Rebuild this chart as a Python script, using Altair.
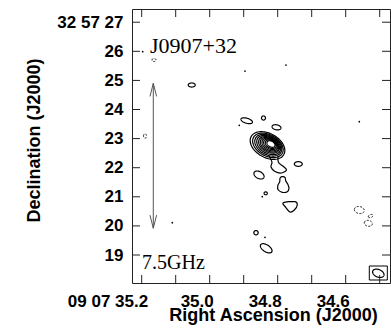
import altair as alt
import numpy as np
import pandas as pd

# ---------------- data (RA in seconds of 09h07m, Dec in arcsec of +32d57') ----------------
# nested contours of the main source (outer -> inner)
main_ra = [34.8300, 34.8288, 34.8277, 34.8265, 34.8254, 34.8243, 34.8231, 34.8220, 34.8208, 34.8197]
main_dec = [22.763, 22.769, 22.774, 22.780, 22.786, 22.791, 22.797, 22.803, 22.808, 22.814]
main_a = [0.68, 0.60, 0.53, 0.47, 0.41, 0.36, 0.31, 0.26, 0.21, 0.16]
main_b = [0.42, 0.37, 0.33, 0.29, 0.25, 0.22, 0.19, 0.16, 0.13, 0.10]
main_pa = [25, 25, 25, 25, 25, 25, 25, 25, 25, 25]

# small compact contours (ellipses); neg = 1 -> dashed (negative) contour
ell_ra = [35.0529, 35.1638, 35.1903, 34.8912, 34.8418, 34.8035, 34.7394, 34.8550, 34.8353, 34.8638, 34.8338, 34.5600, 34.5265, 34.5335]
ell_dec = [24.842, 25.701, 23.089, 23.615, 23.708, 23.388, 22.127, 21.749, 21.120, 19.766, 19.230, 20.546, 20.340, 20.089]
ell_a = [0.13, 0.075, 0.055, 0.22, 0.075, 0.167, 0.148, 0.20, 0.06, 0.08, 0.24, 0.185, 0.09, 0.15]
ell_b = [0.07, 0.05, 0.075, 0.086, 0.07, 0.086, 0.08, 0.12, 0.05, 0.075, 0.12, 0.12, 0.05, 0.10]
ell_pa = [0, 0, 0, 15, 0, 10, 0, 25, 0, 0, 30, 10, -20, 10]
ell_neg = [0, 1, 1, 0, 0, 0, 0, 0, 0, 0, 0, 1, 1, 1]

# point-like contours
dot_ra = [35.1971, 34.8962, 34.7756, 34.5600, 35.1100, 34.9130, 34.8374, 34.8453]
dot_dec = [25.986, 25.323, 25.529, 23.581, 20.110, 23.457, 19.608, 21.003]

# extension (tail) south of the main source
tail_ra = [34.8256, 34.8168, 34.8197, 34.8079, 34.7888, 34.7741, 34.7829, 34.7976, 34.7991]
tail_dec = [22.402, 22.196, 22.024, 21.869, 21.818, 21.921, 22.041, 22.179, 22.402]

# irregular closed contours
bean_ra = [34.7882, 34.7785, 34.7765, 34.7706, 34.7668, 34.7718, 34.7865, 34.7982, 34.8000, 34.7941, 34.7932]
bean_dec = [21.691, 21.670, 21.553, 21.440, 21.292, 21.175, 21.155, 21.234, 21.371, 21.519, 21.636]
tri_ra = [34.7835, 34.7491, 34.7424, 34.7512, 34.7638, 34.7765]
tri_dec = [20.797, 20.832, 20.718, 20.546, 20.478, 20.639]

# scale arrow
arrow_ra = [35.1659, 35.1659, None, 35.1756, 35.1659, 35.1562, None, 35.1756, 35.1659, 35.1562]
arrow_dec = [19.92, 24.90, None, 24.45, 24.90, 24.45, None, 20.37, 19.92, 20.37]

# beam
beam_box_ra = [34.5306, 34.4776]
beam_box_dec = [18.141, 18.622]
beam_ra, beam_dec, beam_a, beam_b, beam_pa = 34.5041, 18.371, 0.22, 0.13, 20

# axes
ra_ticks = [35.2, 35.1, 35.0, 34.9, 34.8, 34.7, 34.6, 34.5]
ra_labels = [35.2, 35.0, 34.8, 34.6]
dec_ticks = [19, 20, 21, 22, 23, 24, 25, 26, 27]

# ---------------- helpers ----------------
ARCSEC_PER_S = 15 * np.cos(np.radians(32.955))


def ellipse(cid, ra0, dec0, a, b, pa, n=73):
    t = np.linspace(0, 2 * np.pi, n)
    th = np.radians(pa)
    e = a * np.cos(t) * np.cos(th) - b * np.sin(t) * np.sin(th)
    nn = a * np.cos(t) * np.sin(th) + b * np.sin(t) * np.cos(th)
    return pd.DataFrame({"id": cid, "k": np.arange(n), "ra": ra0 + e / ARCSEC_PER_S, "dec": dec0 + nn})


solid, dashed = [], []
for i in range(len(main_ra)):
    solid.append(ellipse(f"m{i}", main_ra[i], main_dec[i], main_a[i], main_b[i], main_pa[i]))
for i in range(len(ell_ra)):
    df = ellipse(f"e{i}", ell_ra[i], ell_dec[i], ell_a[i], ell_b[i], ell_pa[i])
    (dashed if ell_neg[i] else solid).append(df)
solid.append(ellipse("beam", beam_ra, beam_dec, beam_a, beam_b, beam_pa))
solid_df = pd.concat(solid, ignore_index=True)
dashed_df = pd.concat(dashed, ignore_index=True)

closed_df = pd.concat([
    pd.DataFrame({"id": "bean", "k": range(len(bean_ra)), "ra": bean_ra, "dec": bean_dec}),
    pd.DataFrame({"id": "tri", "k": range(len(tri_ra)), "ra": tri_ra, "dec": tri_dec}),
], ignore_index=True)
tail_df = pd.DataFrame({"k": range(len(tail_ra)), "ra": tail_ra, "dec": tail_dec})
arrow_df = pd.DataFrame({"k": range(len(arrow_ra)), "ra": arrow_ra, "dec": arrow_dec})
dots_df = pd.DataFrame({"ra": dot_ra, "dec": dot_dec})

W, H = 258, 274
TL = 8
xscale = alt.Scale(domain=[34.46971, 35.22853], reverse=True, nice=False, zero=False)
yscale = alt.Scale(domain=[18.038, 27.454], nice=False, zero=False)

FONT = "Liberation Sans"
xaxis = alt.Axis(
    values=ra_labels, ticks=False, domain=False, grid=False,
    labelPadding=10, labelFlush=False, labelOverlap=False,
    labelExpr="datum.value > 35.1 ? '09 07 35.2' : format(datum.value, '.1f')",
    labelAlign={"condition": {"test": "datum.value > 35.1", "value": "right"}, "value": "center"},
    labelOffset={"condition": {"test": "datum.value > 35.1", "value": 6}, "value": -13},
    title="Right Ascension (J2000)", titleX=141, titleY=37, titleBaseline="alphabetic", titleAlign="center",
)
yaxis = alt.Axis(
    values=dec_ticks, ticks=False, domain=False, grid=False,
    labelPadding=9, labelFlush=False, labelOverlap=False, labelBaseline="middle",
    labelExpr="datum.value == 27 ? '32 57 27' : format(datum.value, 'd')",
    title="Declination (J2000)", titleX=-93, titleY=131, titleBaseline="alphabetic", titleAlign="center",
    titleAngle=270,
)


def X():
    return alt.X("ra:Q", scale=xscale, axis=xaxis)


def Y():
    return alt.Y("dec:Q", scale=yscale, axis=yaxis)


LW = 1.2
solid_layer = alt.Chart(solid_df).mark_line(color="black", strokeWidth=LW).encode(
    x=X(), y=Y(), detail="id:N", order="k:Q")
dashed_layer = alt.Chart(dashed_df).mark_line(color="black", strokeWidth=1, strokeDash=[2, 1.5]).encode(
    x=X(), y=Y(), detail="id:N", order="k:Q")
closed_layer = alt.Chart(closed_df).mark_line(color="black", strokeWidth=LW, interpolate="cardinal-closed").encode(
    x=X(), y=Y(), detail="id:N", order="k:Q")
tail_layer = alt.Chart(tail_df).mark_line(color="black", strokeWidth=LW, interpolate="cardinal").encode(
    x=X(), y=Y(), order="k:Q")
dots_layer = alt.Chart(dots_df).mark_circle(color="black", size=3, opacity=1).encode(x=X(), y=Y())
arrow_layer = alt.Chart(arrow_df).mark_line(color="#555555", strokeWidth=1).encode(
    x=X(), y=Y(), order="k:Q")
box_layer = alt.Chart(pd.DataFrame({"ra": [beam_box_ra[0]], "ra2": [beam_box_ra[1]],
                                    "dec": [beam_box_dec[0]], "dec2": [beam_box_dec[1]]})).mark_rect(
    fill="white", fillOpacity=0, stroke="black", strokeWidth=1).encode(
    x=X(), x2="ra2:Q", y=Y(), y2="dec2:Q")

xt = pd.DataFrame({"ra": ra_ticks})
yt = pd.DataFrame({"dec": dec_ticks})
tick_bottom = alt.Chart(xt).mark_rule(color="#222", strokeWidth=1).encode(
    x=X(), y=alt.value(H - TL), y2=alt.value(H))
tick_top = alt.Chart(xt).mark_rule(color="#222", strokeWidth=1).encode(
    x=X(), y=alt.value(0), y2=alt.value(TL))
tick_left = alt.Chart(yt).mark_rule(color="#222", strokeWidth=1).encode(
    y=Y(), x=alt.value(0), x2=alt.value(TL))
tick_right = alt.Chart(yt).mark_rule(color="#222", strokeWidth=1).encode(
    y=Y(), x=alt.value(W - TL), x2=alt.value(W))

name_layer = alt.Chart(pd.DataFrame({"t": ["J0907+32"]})).mark_text(
    font="Liberation Serif", fontSize=22, align="left", baseline="alphabetic", color="black").encode(
    text="t:N", x=alt.value(18), y=alt.value(44))
freq_layer = alt.Chart(pd.DataFrame({"t": ["7.5GHz"]})).mark_text(
    font="Liberation Serif", fontSize=20, align="left", baseline="alphabetic", color="black").encode(
    text="t:N", x=alt.value(10), y=alt.value(260))

chart = alt.layer(
    solid_layer, dashed_layer, closed_layer, tail_layer, dots_layer, arrow_layer, box_layer,
    tick_bottom, tick_top, tick_left, tick_right, name_layer, freq_layer,
).properties(
    width=W, height=H,
    autosize=alt.AutoSizeParams(type="none"),
    padding={"left": 132, "top": 9, "right": 1, "bottom": 47},
    background="white",
).configure_view(stroke="#222", strokeWidth=1).configure_axis(
    labelFont=FONT, labelFontWeight="bold", labelFontSize=17, labelColor="black",
    titleFont=FONT, titleFontWeight="bold", titleFontSize=18, titleColor="black",
)

chart.save("out.html", embed_options={"renderer": "svg", "actions": False})
